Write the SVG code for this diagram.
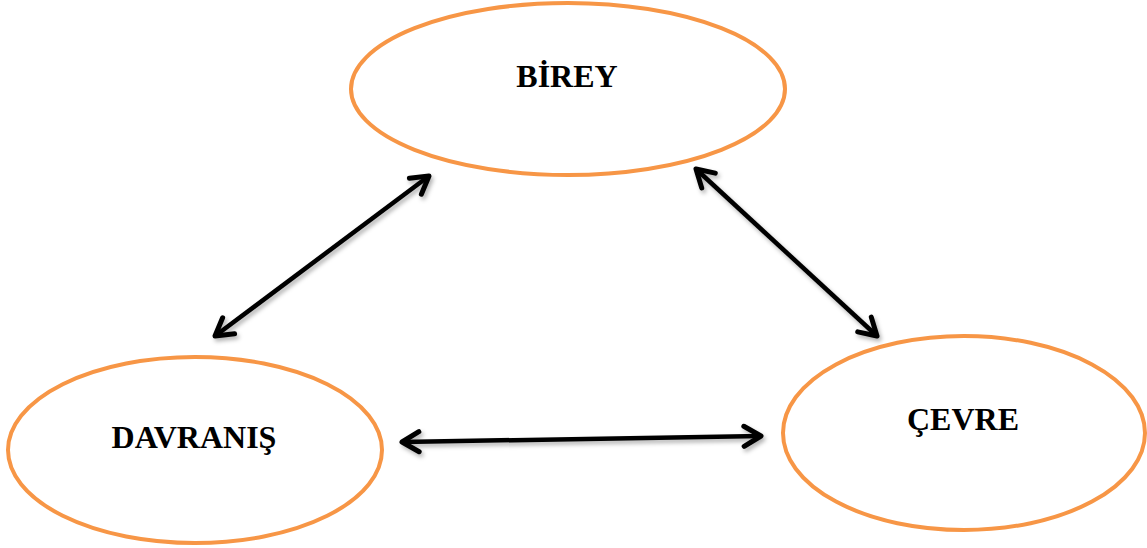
<svg xmlns="http://www.w3.org/2000/svg" width="1147" height="548" viewBox="0 0 1147 548">
  <style>
    .node { fill: #ffffff; stroke: #F79646; stroke-width: 4; }
    .label { font-family: "Liberation Serif", "Times New Roman", serif; font-weight: bold; font-size: 32px; fill: #000000; text-anchor: middle; }
    .conn { stroke: #000000; stroke-width: 4.5; fill: none; marker-start: url(#chev); marker-end: url(#chev); }
  </style>
  <defs>
    <marker id="chev" markerUnits="userSpaceOnUse" viewBox="-24 -14 28 28" refX="0" refY="0" markerWidth="28" markerHeight="28" orient="auto-start-reverse">
      <path d="M -17,-10 L 0,0 L -17,10" fill="none" stroke="#000000" stroke-width="5" stroke-linecap="round" stroke-linejoin="round"/>
    </marker>
    <filter id="shadow" x="-10%" y="-10%" width="130%" height="130%">
      <feDropShadow dx="2" dy="3" stdDeviation="2" flood-color="#000000" flood-opacity="0.3"/>
    </filter>
  </defs>
  <rect width="1147" height="548" fill="#ffffff"/>

  <g id="node-birey">
    <ellipse class="node" cx="568" cy="89" rx="217" ry="86"/>
    <text class="label" x="567" y="87">BİREY</text>
  </g>
  <g id="node-davranis">
    <ellipse class="node" cx="195" cy="450" rx="187" ry="93"/>
    <text class="label" x="194" y="448">DAVRANIŞ</text>
  </g>
  <g id="node-cevre">
    <ellipse class="node" cx="964" cy="433" rx="181" ry="97"/>
    <text class="label" x="963" y="430">ÇEVRE</text>
  </g>

  <g id="connectors" filter="url(#shadow)">
    <line class="conn" x1="215" y1="336" x2="429" y2="176"/>
    <line class="conn" x1="696" y1="169" x2="877" y2="336"/>
    <line class="conn" x1="402" y1="442" x2="761" y2="436"/>
  </g>
</svg>
